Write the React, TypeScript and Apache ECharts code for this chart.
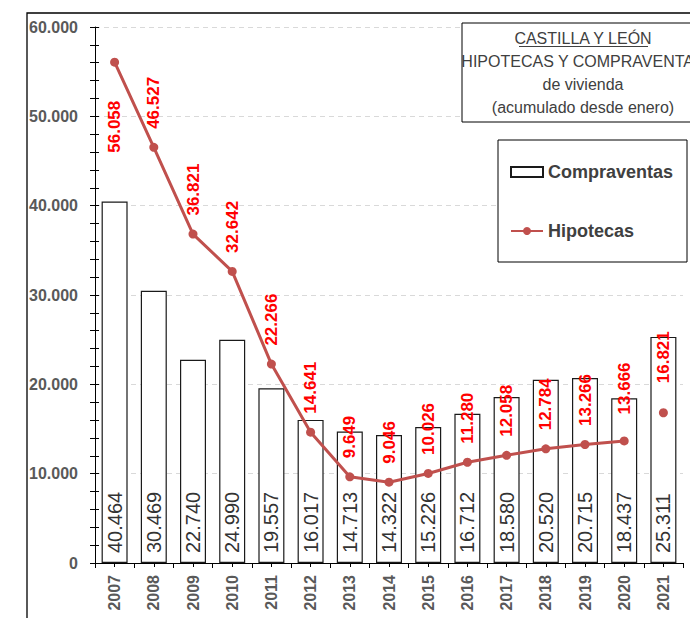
import React, { useEffect, useRef } from "react";
import * as echarts from "echarts";

const years = ["2007", "2008", "2009", "2010", "2011", "2012", "2013", "2014", "2015", "2016", "2017", "2018", "2019", "2020", "2021"];
const compraventas = [40464, 30469, 22740, 24990, 19557, 16017, 14713, 14322, 15226, 16712, 18580, 20520, 20715, 18437, 25311];
const hipotecas = [56058, 46527, 36821, 32642, 22266, 14641, 9649, 9046, 10026, 11280, 12058, 12784, 13266, 13666, 16821];
const titleLines = ["CASTILLA Y LEÓN", "HIPOTECAS Y COMPRAVENTAS", "de vivienda", "(acumulado desde enero)"];

const FONT = "'Liberation Sans', Arial, sans-serif";
const RED_LINE = "#C0504D";

function fmt(v: number): string {
  return String(Math.round(v)).replace(/\B(?=(\d{3})+(?!\d))/g, ".");
}

export default function App() {
  const ref = useRef<HTMLDivElement>(null);
  useEffect(() => {
    if (!ref.current) return;
    const chart = echarts.init(ref.current, null, { renderer: "svg" });
    const lastIdx = hipotecas.length - 1;
    const lineData = hipotecas.slice(0, lastIdx).map((v, i) => {
      if (i === 0) {
        return { value: v, label: { position: "bottom", align: "right", distance: 34 } };
      }
      if (i === lastIdx - 1) {
        return { value: v, label: { distance: 22 } };
      }
      return v;
    });
    const redLabel = {
      show: true,
      position: "top",
      rotate: 90,
      align: "left",
      verticalAlign: "middle",
      fontFamily: FONT,
      fontSize: 17,
      fontWeight: "bold",
      color: "#FF0000",
    };
    const option: any = {
      animation: false,
      backgroundColor: "#fff",
      textStyle: { fontFamily: FONT },
      grid: { left: 95, right: 7, top: 27, bottom: 55, containLabel: false },
      legend: {
        orient: "vertical",
        left: 510,
        top: 163,
        padding: 0,
        itemWidth: 32,
        itemHeight: 10,
        itemGap: 41,
        z: 20,
        data: [
          { name: "Compraventas", icon: "rect" },
          { name: "Hipotecas" },
        ],
        textStyle: { fontFamily: FONT, fontSize: 18, fontWeight: "bold", color: "#404040" },
      },
      xAxis: [
        {
          type: "category",
          data: years,
          position: "bottom",
          boundaryGap: true,
          axisLine: { show: true, lineStyle: { color: "#000", width: 1 } },
          axisTick: { show: true, alignWithLabel: false, length: 5, lineStyle: { color: "#000" } },
          axisLabel: {
            rotate: 90,
            margin: 12,
            fontFamily: FONT,
            fontSize: 16,
            fontWeight: "bold",
            color: "#595959",
            interval: 0,
          },
          splitLine: { show: false },
        },
        {
          type: "category",
          data: years,
          position: "bottom",
          boundaryGap: true,
          axisLine: { show: false },
          axisTick: { show: true, alignWithLabel: true, length: 4, lineStyle: { color: "#000" } },
          axisLabel: { show: false },
          splitLine: { show: false },
        },
        {
          type: "category",
          data: years,
          position: "bottom",
          boundaryGap: true,
          axisLine: { show: false },
          axisTick: { show: true, inside: true, alignWithLabel: true, length: 4, lineStyle: { color: "#000" } },
          axisLabel: { show: false },
          splitLine: { show: false },
        },
      ],
      yAxis: [
        {
          type: "value",
          position: "left",
          min: 0,
          max: 60000,
          interval: 10000,
          axisLine: { show: true, lineStyle: { color: "#000", width: 1 } },
          axisTick: { show: true, length: 5, lineStyle: { color: "#000" } },
          minorTick: { show: true, splitNumber: 5, length: 5, lineStyle: { color: "#000" } },
          axisLabel: {
            margin: 17,
            fontFamily: FONT,
            fontSize: 16,
            fontWeight: "bold",
            color: "#595959",
            formatter: (v: number) => fmt(v),
          },
          splitLine: { show: true, lineStyle: { color: "#D9D9D9", type: [5, 4], width: 1 } },
        },
        {
          type: "value",
          position: "left",
          min: 0,
          max: 60000,
          interval: 10000,
          axisLine: { show: false },
          axisTick: { show: true, inside: true, length: 4, lineStyle: { color: "#000" } },
          minorTick: { show: true, splitNumber: 5, length: 4, lineStyle: { color: "#000" } },
          axisLabel: { show: false },
          splitLine: { show: false },
        },
      ],
      series: [
        {
          name: "Compraventas",
          type: "bar",
          data: compraventas,
          barWidth: 26,
          itemStyle: { color: "#fff", borderColor: "#1a1a1a", borderWidth: 1.2 },
          label: {
            show: true,
            position: "insideBottom",
            distance: 10,
            rotate: 90,
            align: "left",
            verticalAlign: "middle",
            fontFamily: FONT,
            fontSize: 20,
            color: "#333333",
            formatter: (p: any) => fmt(p.value),
          },
        },
        {
          name: "Hipotecas",
          type: "line",
          data: lineData,
          symbol: "circle",
          symbolSize: 9,
          lineStyle: { color: RED_LINE, width: 3 },
          itemStyle: { color: RED_LINE, opacity: 1 },
          label: {
            ...redLabel,
            distance: 14,
            formatter: (p: any) => fmt(typeof p.value === "object" ? p.value.value : p.value),
          },
          z: 3,
        },
        {
          name: "Hipotecas 2021",
          type: "scatter",
          data: [[years[lastIdx], hipotecas[lastIdx]]],
          symbol: "circle",
          symbolSize: 9,
          itemStyle: { color: RED_LINE, opacity: 1 },
          label: {
            ...redLabel,
            distance: 25,
            formatter: (p: any) => fmt(p.value[1]),
          },
          z: 3,
        },
      ],
      graphic: [
        {
          type: "rect",
          z: 10,
          silent: true,
          shape: { x: 27, y: 13, width: 720, height: 720 },
          style: { fill: "none", stroke: "#000", lineWidth: 1.3 },
        },
        {
          type: "rect",
          z: 10,
          shape: { x: 462, y: 23, width: 300, height: 99 },
          style: { fill: "#fff", stroke: "#000", lineWidth: 1 },
        },
        ...titleLines.map((t, i) => ({
          type: "text",
          z: 11,
          x: 583,
          y: 38 + i * 23,
          style: {
            text: t,
            fill: "#404040",
            font: `16px ${FONT}`,
            textAlign: "center",
            textVerticalAlign: "middle",
          },
        })),
        {
          type: "line",
          z: 11,
          shape: { x1: 519, y1: 46.5, x2: 648, y2: 46.5 },
          style: { stroke: "#404040", lineWidth: 1 },
        },
        {
          type: "rect",
          z: 10,
          shape: { x: 498, y: 140, width: 189, height: 122 },
          style: { fill: "#fff", stroke: "#000", lineWidth: 1 },
        },
      ],
    };
    chart.setOption(option);
    return () => chart.dispose();
  }, []);
  return (
    <div
      ref={ref}
      style={{ position: "absolute", left: 0, top: 0, width: 690, height: 618, background: "#fff" }}
    />
  );
}
